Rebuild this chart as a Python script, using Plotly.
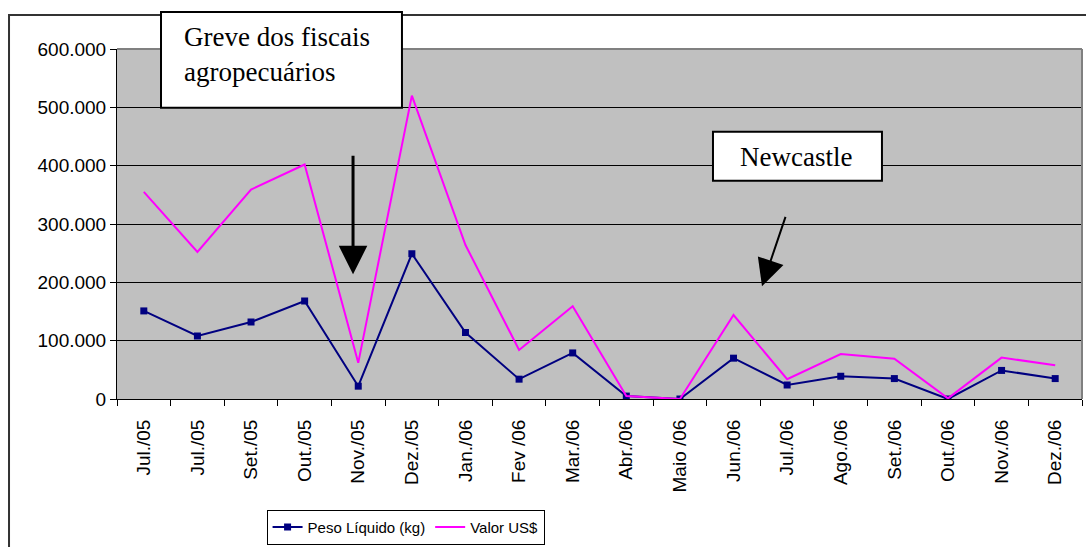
import plotly.graph_objects as go

months = ["Jul./05", "Jul./05", "Set./05", "Out./05", "Nov./05", "Dez./05",
          "Jan./06", "Fev /06", "Mar./06", "Abr./06", "Maio /06", "Jun./06",
          "Jul./06", "Ago./06", "Set./06", "Out./06", "Nov./06", "Dez./06"]
peso_liquido = [151000, 108000, 132000, 168000, 22000, 249000,
                114000, 34000, 79000, 5000, 0, 70000,
                24000, 39000, 35000, 0, 49000, 35000]
valor_usd = [355000, 252000, 359000, 402000, 62000, 520000,
             264000, 84000, 159000, 5000, 0, 144000,
             34000, 77000, 69000, 1000, 71000, 58000]

positions = list(range(len(months)))

figure = go.Figure()
figure.add_trace(go.Scatter(x=positions, y=peso_liquido, name="Peso Líquido (kg)",
                            mode="lines+markers",
                            line={"color": "#000080", "width": 2},
                            marker={"symbol": "square", "size": 7, "color": "#000080"}))
figure.add_trace(go.Scatter(x=positions, y=valor_usd, name="Valor US$",
                            mode="lines", line={"color": "#FF00FF", "width": 2}))

label_font = {"family": "Arial, Liberation Sans, sans-serif", "size": 19, "color": "black"}
serif_font = {"family": "Times New Roman, Liberation Serif, serif", "size": 27, "color": "black"}

shapes = [
    # outer chart frame
    {"type": "rect", "xref": "paper", "yref": "paper", "x0": -0.1119, "x1": 1.05,
     "y0": -0.6, "y1": 1.0969, "line": {"color": "#333333", "width": 2}, "layer": "below"},
    # top and right plot border
    {"type": "line", "xref": "paper", "yref": "paper", "x0": 0, "x1": 1, "y0": 1, "y1": 1,
     "line": {"color": "#808080", "width": 2}},
    {"type": "line", "xref": "paper", "yref": "paper", "x0": 1, "x1": 1, "y0": 0, "y1": 1,
     "line": {"color": "#808080", "width": 2}},
    # text boxes
    {"type": "rect", "xref": "paper", "yref": "paper", "x0": 0.0456, "x1": 0.2953,
     "y0": 0.8319, "y1": 1.1054, "fillcolor": "white", "line": {"color": "black", "width": 2},
     "layer": "above"},
    {"type": "rect", "xref": "paper", "yref": "paper", "x0": 0.6176, "x1": 0.7927,
     "y0": 0.6239, "y1": 0.7635, "fillcolor": "white", "line": {"color": "black", "width": 2},
     "layer": "above"},
]

annotations = [
    {"text": "Greve dos fiscais<br>agropecuários", "xref": "paper", "yref": "paper",
     "x": 0.0674, "y": 0.983, "xanchor": "left", "yanchor": "middle", "align": "left",
     "showarrow": False, "font": serif_font},
    {"text": "Newcastle", "xref": "paper", "yref": "paper", "x": 0.7036, "y": 0.6923,
     "xanchor": "center", "yanchor": "middle", "showarrow": False, "font": serif_font},
    {"text": "", "xref": "paper", "yref": "paper", "x": 0.2446, "y": 0.3561,
     "ax": 0, "ay": -120, "showarrow": True, "arrowhead": 2, "arrowwidth": 3,
     "arrowsize": 1.9, "arrowcolor": "black"},
    {"text": "", "xref": "paper", "yref": "paper", "x": 0.6684, "y": 0.3219,
     "ax": 24, "ay": -71, "showarrow": True, "arrowhead": 2, "arrowwidth": 2,
     "arrowsize": 2.7, "arrowcolor": "black"},
]

plot_layout = {
    "width": 1086,
    "height": 547,
    "margin": {"l": 117, "r": 4, "t": 49, "b": 147},
    "paper_bgcolor": "white",
    "plot_bgcolor": "#C0C0C0",
    "separators": ",.",
    "showlegend": True,
    "legend": {"orientation": "h", "x": 0.155, "y": -0.313, "xanchor": "left", "yanchor": "top",
               "bgcolor": "white", "bordercolor": "black", "borderwidth": 1,
               "font": {"family": "Liberation Sans Narrow, Arial Narrow, Liberation Sans, sans-serif",
                        "size": 15, "color": "black"},
               "itemwidth": 30, "tracegroupgap": 0},
    "xaxis": {"range": [-0.5, len(months) - 0.5], "tickmode": "array", "tickvals": positions,
              "ticktext": months, "tickangle": -90, "ticks": "", "showgrid": False,
              "zeroline": False, "showline": True, "linecolor": "black", "linewidth": 1,
              "tickfont": label_font, "ticklabelstandoff": 12,
              "minor": {"tickmode": "array", "tickvals": [p - 0.5 for p in positions] + [len(months) - 0.5],
                        "ticks": "outside", "ticklen": 6, "tickcolor": "black", "showgrid": False}},
    "yaxis": {"range": [0, 600000], "dtick": 100000, "tickformat": ",.0f",
              "ticks": "outside", "ticklen": 6, "tickcolor": "black",
              "showgrid": True, "gridcolor": "black", "gridwidth": 1, "zeroline": False,
              "showline": True, "linecolor": "black", "linewidth": 1, "tickfont": label_font},
    "shapes": shapes,
    "annotations": annotations,
}
figure.update_layout(plot_layout)
# the page body has a default margin; drop it so the figure sits at the window's corner
figure.write_html("out.html", config={"displayModeBar": False},
                  post_script="document.body.style.margin = '0';")
